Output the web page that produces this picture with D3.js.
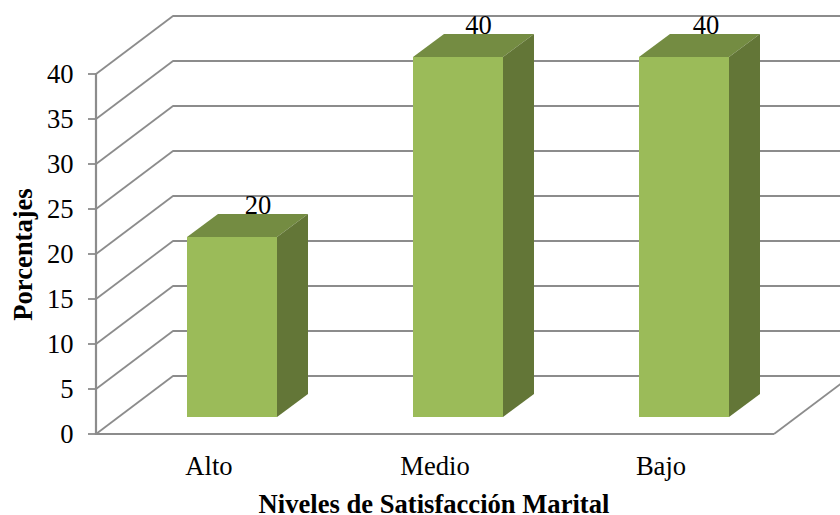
<!DOCTYPE html>
<html><head><meta charset="utf-8">
<script src="https://cdnjs.cloudflare.com/ajax/libs/d3/7.8.5/d3.min.js"></script>
<style>html,body{margin:0;padding:0;background:#fff}svg{display:block}text{font-family:"Liberation Serif","Times New Roman",serif;fill:#000}</style>
</head><body><div id="c"></div>
<script>
const categories=["Alto","Medio","Bajo"];
const values=[20,40,40];
const valueLabels=["20","40","40"];
const yTicks=[0,5,10,15,20,25,30,35,40];
const yTitle="Porcentajes";
const xTitle="Niveles de Satisfacción Marital";

const W=840,H=515,FS=26.6;
const svg=d3.select("#c").append("svg").attr("width",W).attr("height",H);
const y=d3.scaleLinear().domain([0,40]).range([434,74]);
const x=d3.scaleBand().domain(categories).range([96,774]);
const depthX=77,depthY=58;
const barW=90,barLift=17,bdx=31,bdy=23;
const labelDx=[71,65.5,67];
const grid="#8c8c8c";

// grid lines: wall and floor
const g=svg.append("g").attr("fill","none").attr("stroke",grid);
yTicks.forEach(t=>{
  g.append("path").attr("stroke-width",1.8).attr("d",`M96,${y(t)}L${96+depthX},${y(t)-depthY}`);
  g.append("line").attr("stroke-width",2.2).attr("x1",96+depthX-0.5).attr("x2",W+2).attr("y1",y(t)-depthY).attr("y2",y(t)-depthY);
  g.append("line").attr("stroke-width",1.8).attr("x1",88).attr("x2",96).attr("y1",y(t)).attr("y2",y(t));
});
g.append("line").attr("stroke-width",2.2).attr("x1",96).attr("x2",96).attr("y1",y(0)+1).attr("y2",y(40)-1);
g.append("line").attr("stroke-width",2.2).attr("x1",96).attr("x2",774).attr("y1",y(0)).attr("y2",y(0));
g.append("line").attr("stroke-width",1.8).attr("x1",774).attr("y1",y(0)).attr("x2",774+depthX).attr("y2",y(0)-depthY);

// value labels sit behind the bars, whose tops clip their feet
categories.forEach((c,i)=>{
  const l=x(c)+x.bandwidth()/2-22,t=y(values[i])-barLift;
  svg.append("text").attr("x",l+labelDx[i]).attr("y",t-23).attr("text-anchor","middle").attr("font-size",FS).text(valueLabels[i]);
});
// bars
categories.forEach((c,i)=>{
  const l=x(c)+x.bandwidth()/2-22,r=l+barW;
  const b=y(0)-barLift,t=y(values[i])-barLift;
  svg.append("path").attr("fill","#748c42").attr("d",`M${l},${t}L${l+bdx},${t-bdy}L${r+bdx},${t-bdy}L${r},${t}Z`);
  svg.append("path").attr("fill","#637637").attr("d",`M${r},${t}L${r+bdx},${t-bdy}L${r+bdx},${b-bdy}L${r},${b}Z`);
  svg.append("rect").attr("x",l).attr("y",t).attr("width",barW).attr("height",b-t).attr("fill","#9bbb59");
  svg.append("text").attr("x",x(c)+x.bandwidth()/2).attr("y",475).attr("text-anchor","middle").attr("font-size",FS).text(c);
});
yTicks.forEach(t=>svg.append("text").attr("x",73.5).attr("y",y(t)+9).attr("text-anchor","end").attr("font-size",FS).text(t));
svg.append("text").attr("x",434).attr("y",512.5).attr("text-anchor","middle").attr("font-size",FS).attr("font-weight","bold").text(xTitle);
svg.append("text").attr("transform","translate(32,254.5) rotate(-90)").attr("text-anchor","middle").attr("font-size",FS).attr("font-weight","bold").text(yTitle);
</script></body></html>
